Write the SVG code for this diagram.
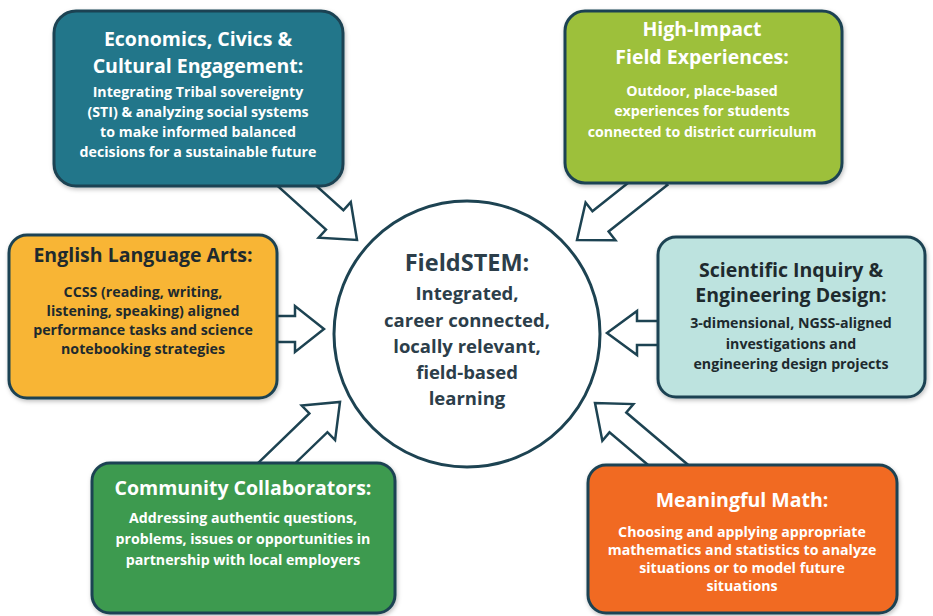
<svg xmlns="http://www.w3.org/2000/svg" width="933" height="616" viewBox="0 0 933 616">
  <defs>
    <filter id="sh" x="-10%" y="-10%" width="120%" height="125%">
      <feDropShadow dx="1" dy="2" stdDeviation="2" flood-color="#000" flood-opacity="0.25"/>
    </filter>
  </defs>
  <style>
    .box { stroke: #1d4352; stroke-width: 3; filter: url(#sh); }
    .arrow { fill: #ffffff; stroke: #1d4352; stroke-width: 2.5; stroke-linejoin: miter; }
    text { font-family: "Open Sans", Lato, "Liberation Sans", sans-serif; font-weight: bold; text-anchor: middle; }
    .t { font-size: 19.5px; }
    .b { font-size: 14.2px; }
    .w { fill: #ffffff; }
    .d { fill: #1e2a2e; }
    .c { fill: #2c3e4a; }
  </style>
  <rect width="933" height="616" fill="#ffffff"/>

  <g id="connectors">
    <polygon class="arrow" transform="translate(357,240) rotate(42)" points="-100,-13 -30,-13 -30,-24 0,0 -30,24 -30,13 -100,13"/>
    <polygon class="arrow" transform="translate(577,240) rotate(141.6)" points="-105,-13 -30,-13 -30,-24 0,0 -30,24 -30,13 -105,13"/>
    <polygon class="arrow" transform="translate(324,329)" points="-49,-13 -29,-13 -29,-23 0,0 -29,23 -29,13 -49,13"/>
    <polygon class="arrow" transform="translate(607,333) rotate(180)" points="-52,-12 -30,-12 -30,-22 0,0 -30,22 -30,12 -52,12"/>
    <polygon class="arrow" transform="translate(340,402) rotate(-44)" points="-100,-13 -30,-13 -30,-24 0,0 -30,24 -30,13 -100,13"/>
    <polygon class="arrow" transform="translate(595,403) rotate(-139.7)" points="-110,-13 -30,-13 -30,-24 0,0 -30,24 -30,13 -110,13"/>
  </g>

  <g id="center">
    <circle cx="467" cy="334" r="133" fill="#ffffff" stroke="#1d4352" stroke-width="3"/>
    <text class="c" x="467" y="271" font-size="23.5">FieldSTEM:</text>
    <text class="c" x="467" y="300" font-size="18.5">Integrated,</text>
    <text class="c" x="467" y="327" font-size="18.5">career connected,</text>
    <text class="c" x="467" y="353" font-size="18.5">locally relevant,</text>
    <text class="c" x="467" y="379" font-size="18.5">field-based</text>
    <text class="c" x="467" y="405" font-size="18.5">learning</text>
  </g>

  <g id="economics">
    <rect class="box" x="54" y="11" width="289" height="175" rx="22" fill="#23768a"/>
    <text class="t w" x="198" y="46">Economics, Civics &amp;</text>
    <text class="t w" x="198" y="73">Cultural Engagement:</text>
    <text class="b w" x="198" y="97">Integrating Tribal sovereignty</text>
    <text class="b w" x="198" y="117">(STI) &amp; analyzing social systems</text>
    <text class="b w" x="198" y="137">to make informed balanced</text>
    <text class="b w" x="198" y="157">decisions for a sustainable future</text>
  </g>

  <g id="field-experiences">
    <rect class="box" x="565" y="11" width="277" height="172" rx="20" fill="#9dc03b"/>
    <text class="t w" x="702" y="36">High-Impact</text>
    <text class="t w" x="702" y="64">Field Experiences:</text>
    <text class="b w" x="702" y="96">Outdoor, place-based</text>
    <text class="b w" x="702" y="116">experiences for students</text>
    <text class="b w" x="702" y="137">connected to district curriculum</text>
  </g>

  <g id="ela">
    <rect class="box" x="9" y="235" width="268" height="163" rx="18" fill="#f8b534"/>
    <text class="t d" x="143" y="262">English Language Arts:</text>
    <text class="b d" x="143" y="297">CCSS (reading, writing,</text>
    <text class="b d" x="143" y="316">listening, speaking) aligned</text>
    <text class="b d" x="143" y="335">performance tasks and science</text>
    <text class="b d" x="143" y="354">notebooking strategies</text>
  </g>

  <g id="scientific-inquiry">
    <rect class="box" x="658" y="237" width="267" height="160" rx="18" fill="#bde3df"/>
    <text class="t d" x="791" y="277">Scientific Inquiry &amp;</text>
    <text class="t d" x="791" y="302">Engineering Design:</text>
    <text class="b d" x="791" y="328">3-dimensional, NGSS-aligned</text>
    <text class="b d" x="791" y="349">investigations and</text>
    <text class="b d" x="791" y="369">engineering design projects</text>
  </g>

  <g id="community">
    <rect class="box" x="92" y="463" width="303" height="150" rx="18" fill="#3d9a4f"/>
    <text class="t w" x="243" y="495">Community Collaborators:</text>
    <text class="b w" x="243" y="523">Addressing authentic questions,</text>
    <text class="b w" x="243" y="544">problems, issues or opportunities in</text>
    <text class="b w" x="243" y="565">partnership with local employers</text>
  </g>

  <g id="math">
    <rect class="box" x="588" y="465" width="309" height="148" rx="18" fill="#f16a22"/>
    <text class="t w" x="742" y="507">Meaningful Math:</text>
    <text class="b w" x="742" y="537">Choosing and applying appropriate</text>
    <text class="b w" x="742" y="555">mathematics and statistics to analyze</text>
    <text class="b w" x="742" y="573">situations or to model future</text>
    <text class="b w" x="742" y="591">situations</text>
  </g>
</svg>
